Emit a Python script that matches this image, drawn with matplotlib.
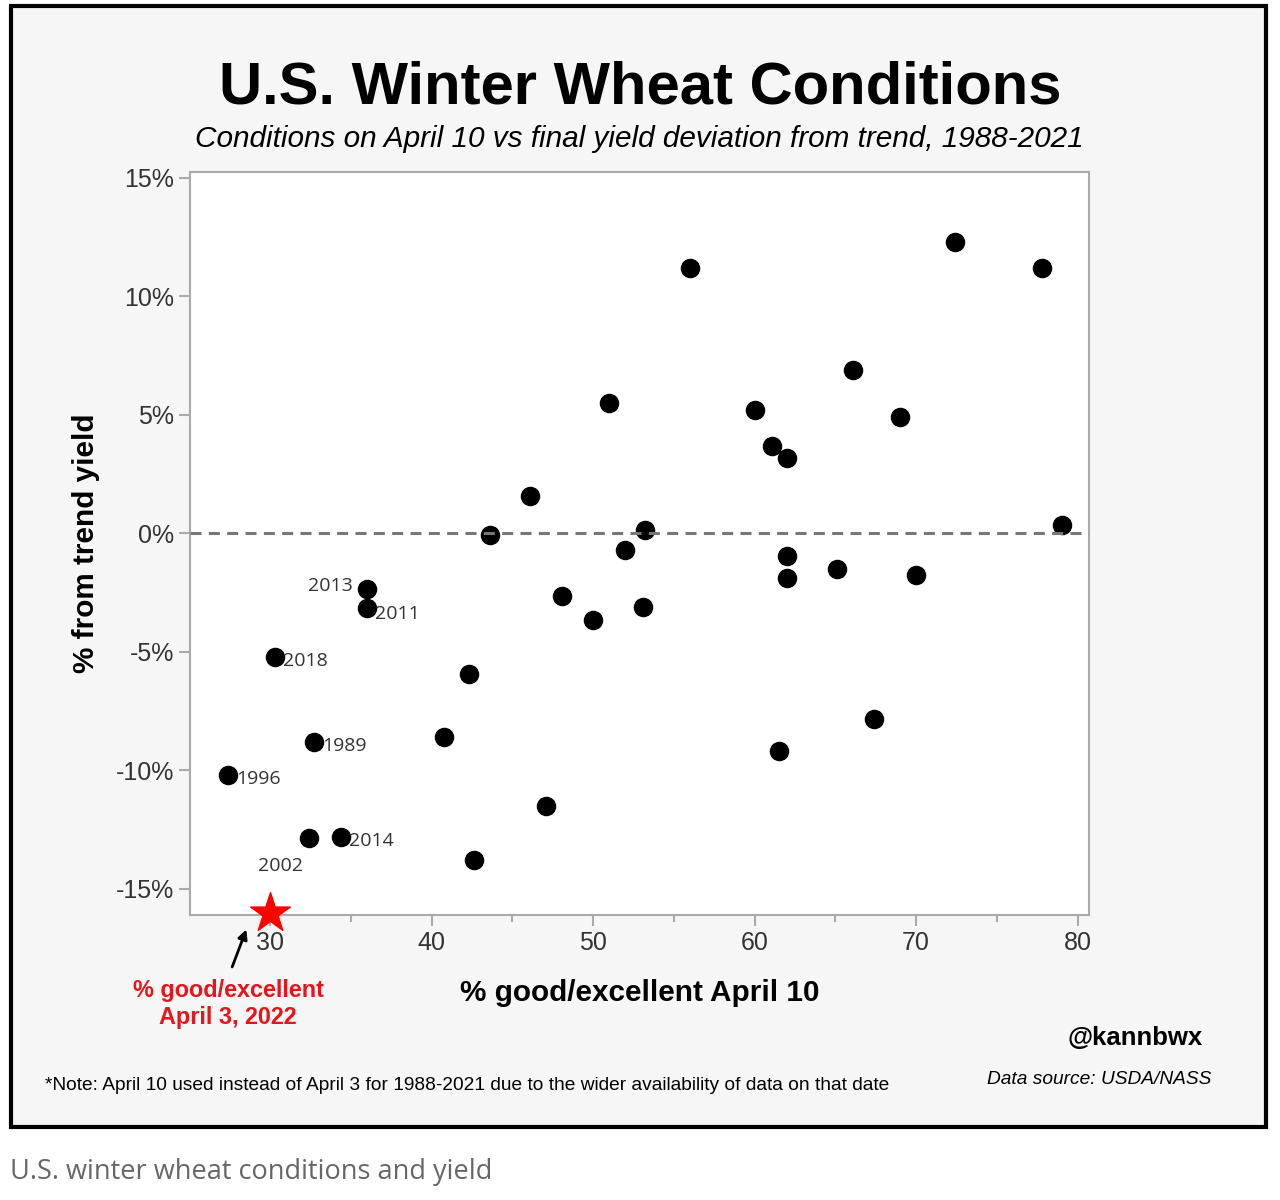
import matplotlib.pyplot as plt
from matplotlib.patches import Rectangle
from matplotlib.ticker import MultipleLocator, FuncFormatter

# April 10 good/excellent (%) vs final yield deviation from trend (%), 1988-2021
cond = [56.0, 72.4, 77.8, 66.1, 51.0, 60.0, 69.0, 61.1, 62.0, 46.1, 53.2, 79.0,
        43.6, 52.0, 62.0, 65.1, 70.0, 62.0, 36.0, 48.1, 36.0, 53.1, 50.0, 30.3,
        42.3, 67.4, 40.8, 32.7, 61.5, 27.4, 47.1, 32.4, 34.4, 42.6]
yield_dev = [11.2, 12.3, 11.2, 6.9, 5.5, 5.2, 4.9, 3.7, 3.2, 1.6, 0.15, 0.35,
             -0.05, -0.7, -0.95, -1.5, -1.75, -1.9, -2.35, -2.65, -3.15, -3.1, -3.65, -5.2,
             -5.95, -7.85, -8.6, -8.8, -9.2, -10.2, -11.5, -12.85, -12.8, -13.8]

# labelled years: (year, x, y, offset in points, alignment)
label_years = ['2013', '2011', '2018', '1989', '1996', '2014', '2002']
label_x = [36.0, 36.0, 30.3, 32.7, 27.4, 34.4, 32.4]
label_y = [-2.35, -3.15, -5.2, -8.8, -10.2, -12.8, -12.85]
label_off = [(-10, 2), (6, -4), (6, -3), (6, -3), (6, -3), (6, -3), (-20, -20)]
label_ha = ['right', 'left', 'left', 'left', 'left', 'left', 'center']

star_x, star_y = 30, -16.0

fig = plt.figure(figsize=(12.8, 12), dpi=100)
fig.patch.set_facecolor('white')

# outer panel with black border
fig.patches.append(Rectangle((11 / 1280, 1 - 1127 / 1200), 1255 / 1280, 1121 / 1200,
                             transform=fig.transFigure, facecolor='#f6f6f6',
                             edgecolor='black', linewidth=3, zorder=-10))

ax = fig.add_axes([190 / 1280, 1 - 915 / 1200, 899 / 1280, 743 / 1200])
ax.set_zorder(1)
ax.set_facecolor('white')

ax.scatter(cond, yield_dev, s=170, color='black', zorder=3)
ax.axhline(0, color='#777777', linestyle=(0, (3.6, 2.4)), linewidth=2.2, zorder=4)
ax.scatter([star_x], [star_y], s=900, marker='*', color='#ff0000', zorder=5, clip_on=False)

for yr, x, y, off, ha in zip(label_years, label_x, label_y, label_off, label_ha):
    ax.annotate(yr, (x, y), xytext=off, textcoords='offset points', ha=ha, va='center',
                fontsize=14, color='#333333', family='Open Sans')

ax.set_xlim(25.05, 80.7)
ax.set_ylim(-16.1, 15.25)
ax.xaxis.set_major_locator(MultipleLocator(10))
ax.xaxis.set_minor_locator(MultipleLocator(5))
ax.yaxis.set_major_locator(MultipleLocator(5))
ax.yaxis.set_major_formatter(FuncFormatter(lambda v, p: f'{v:.0f}%'))

for s in ax.spines.values():
    s.set_color('#aaaaaa')
    s.set_linewidth(1.5)
ax.tick_params(which='both', color='#aaaaaa', width=1.5, labelcolor='#333333',
               labelsize=18)
ax.tick_params(which='major', length=8)
ax.tick_params(which='minor', length=5)
for t in ax.get_xticklabels() + ax.get_yticklabels():
    t.set_family('Liberation Sans')

ax.set_xlabel('% good/excellent April 10', fontsize=21.4, fontweight='bold',
              family='Liberation Sans', labelpad=17)
ax.set_ylabel('% from trend yield', fontsize=21.4, fontweight='bold',
              family='Liberation Sans', labelpad=11)

ax.annotate('', xy=(28.6, -16.6), xytext=(27.6, -18.4),
            arrowprops=dict(arrowstyle='-|>', color='black', lw=2, mutation_scale=14),
            annotation_clip=False)

fig.text(0.5, 1 - 88 / 1200, 'U.S. Winter Wheat Conditions', ha='center', va='center',
         fontsize=43, fontweight='bold', family='Liberation Sans')
fig.text(639 / 1280, 1 - 139 / 1200,
         'Conditions on April 10 vs final yield deviation from trend, 1988-2021',
         ha='center', va='center', fontsize=21.4, style='italic', family='Liberation Sans')
fig.text(228 / 1280, 1 - 1004 / 1200, '% good/excellent\nApril 3, 2022', ha='center',
         va='center', fontsize=16.8, fontweight='bold', color='#e8141b',
         family='Liberation Sans', linespacing=1.2)
fig.text(1135 / 1280, 1 - 1038 / 1200, '@kannbwx', ha='center', va='center',
         fontsize=18.5, fontweight='bold', family='Liberation Sans')
fig.text(1099 / 1280, 1 - 1080 / 1200, 'Data source: USDA/NASS', ha='center',
         va='center', fontsize=13.8, style='italic', family='Liberation Sans')
fig.text(45 / 1280, 1 - 1086 / 1200,
         '*Note: April 10 used instead of April 3 for 1988-2021 due to the wider '
         'availability of data on that date', ha='left', va='center', fontsize=13.8,
         family='Liberation Sans')
fig.text(10 / 1280, 1 - 1172 / 1200, 'U.S. winter wheat conditions and yield',
         ha='left', va='center', fontsize=19.5, color='#666666', family='Open Sans')

fig.savefig('out.png', dpi=100)
